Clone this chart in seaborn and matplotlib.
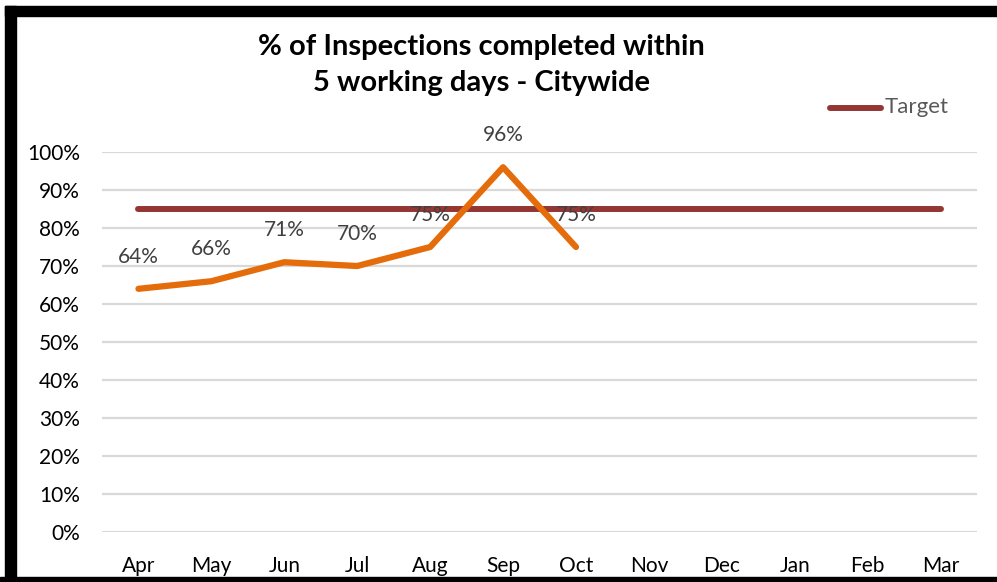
import numpy as np
import pandas as pd
import matplotlib.pyplot as plt
import seaborn as sns
from matplotlib.patches import Rectangle

months = ["Apr", "May", "Jun", "Jul", "Aug", "Sep", "Oct", "Nov", "Dec", "Jan", "Feb", "Mar"]
actual = [0.64, 0.66, 0.71, 0.70, 0.75, 0.96, 0.75]
target = [0.85] * 12

sns.set_style("white")
plt.rcParams['font.family'] = ['Lato', 'DejaVu Sans']

df_act = pd.DataFrame({"x": np.arange(len(actual)), "pct": actual})
df_tgt = pd.DataFrame({"x": np.arange(len(months)), "pct": target})

fig = plt.figure(figsize=(9.97, 5.82), dpi=100)
ax = fig.add_axes([0.1023, 0.0859, 0.8777, 0.6529])

# gridlines
for v in np.arange(0, 1.01, 0.1):
    ax.axhline(v, color="#D9D9D9", lw=1.6, zorder=0)

sns.lineplot(data=df_tgt, x="x", y="pct", ax=ax, color="#943634", lw=4.3, zorder=2,
             solid_capstyle="round")
sns.lineplot(data=df_act, x="x", y="pct", ax=ax, color="#E46C0A", lw=4.5, zorder=3,
             solid_capstyle="round")

for i, v in enumerate(actual):
    ax.annotate(f"{v:.0%}", (i, v), xytext=(0, 23), textcoords="offset points",
                ha="center", va="center", fontsize=15, color="#404040",
                annotation_clip=False, zorder=4)

ax.set_xlim(-0.5, 11.5)
ax.set_ylim(0, 1.0)
ax.set_xticks(range(len(months)))
ax.set_xticklabels(months, fontsize=15, color="black")
ax.set_yticks(np.arange(0, 1.01, 0.1))
ax.set_yticklabels([f"{int(round(t*100))}%" for t in np.arange(0, 1.01, 0.1)],
                   fontsize=15, color="black")
ax.tick_params(length=0, pad=16, axis="y")
ax.tick_params(length=0, pad=17, axis="x")
ax.set_xlabel("")
ax.set_ylabel("")
for s in ax.spines.values():
    s.set_visible(False)

fig.text(0.483, 0.888, "% of Inspections completed within\n5 working days - Citywide",
         ha="center", va="center", fontsize=21, fontweight="bold", linespacing=1.5,
         color="black")

# legend
fig.lines.append(plt.Line2D([830 / 997, 881 / 997], [1 - 108 / 582, 1 - 108 / 582],
                            color="#943634", lw=4.3, solid_capstyle="round",
                            transform=fig.transFigure))
fig.text(885 / 997, 1 - 107 / 582, "Target", ha="left", va="center",
         fontsize=16, color="#595959")

# black border pieces
fig.patches.append(Rectangle((5 / 997, 0), 11 / 997, 1 - 6 / 582, color="black",
                             transform=fig.transFigure))
fig.patches.append(Rectangle((5 / 997, 1 - 16 / 582), 1, 10 / 582, color="black",
                             transform=fig.transFigure))
fig.patches.append(Rectangle((0, 0), 1, 5 / 582, color="black",
                             transform=fig.transFigure))

fig.savefig("out.png", dpi=100)
